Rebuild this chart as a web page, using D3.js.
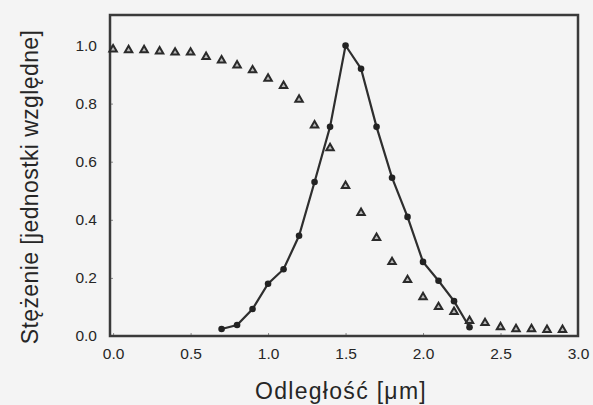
<!DOCTYPE html>
<html>
<head>
<meta charset="utf-8">
<script src="https://cdn.jsdelivr.net/npm/d3@7"></script>
<style>
  body { margin: 0; background: #f4f4f4; }
  text { font-family: "Liberation Sans", Arial, sans-serif; fill: #262626; }
</style>
</head>
<body>
<div id="chart"></div>
<script>
// profile (circles, joined by line)
const profileX = [0.7, 0.8, 0.9, 1.0, 1.1, 1.2, 1.3, 1.4, 1.5, 1.6, 1.7, 1.8, 1.9, 2.0, 2.1, 2.2, 2.3];
const profileY = [0.024, 0.038, 0.093, 0.18, 0.23, 0.345, 0.53, 0.72, 1.0, 0.92, 0.72, 0.545, 0.41, 0.255, 0.19, 0.12, 0.03];

// initial distribution (open triangles)
const initialX = [0.0, 0.1, 0.2, 0.3, 0.4, 0.5, 0.6, 0.7, 0.8, 0.9, 1.0, 1.1, 1.2, 1.3, 1.4,
                  1.5, 1.6, 1.7, 1.8, 1.9, 2.0, 2.1, 2.2, 2.3, 2.4, 2.5, 2.6, 2.7, 2.8, 2.9];
const initialY = [0.987, 0.984, 0.984, 0.98, 0.976, 0.976, 0.961, 0.949, 0.932, 0.915, 0.886, 0.861, 0.814, 0.725, 0.647,
                  0.517, 0.424, 0.338, 0.255, 0.193, 0.134, 0.10, 0.083, 0.052, 0.045, 0.031, 0.024, 0.024, 0.021, 0.021];

const xTicks = [0.0, 0.5, 1.0, 1.5, 2.0, 2.5, 3.0];
const yTicks = [0.0, 0.2, 0.4, 0.6, 0.8, 1.0];

const xTitle = "Odległość [μm]";
const yTitle = "Stężenie [jednostki względne]";

// dimensions
const W = 593, H = 405;
const margin = {top: 15, right: 15, bottom: 69, left: 110};
const width = W - margin.left - margin.right,
      height = H - margin.top - margin.bottom;

const svg = d3.select("#chart").append("svg")
    .attr("width", W)
    .attr("height", H);

const g = svg.append("g")
    .attr("transform", `translate(${margin.left},${margin.top})`);

const x = d3.scaleLinear().domain([-0.02, 3.0]).range([0, width]);
const y = d3.scaleLinear().domain([0, 1.105]).range([height, 0]);

// axes: labels only, tiny inward ticks
const xAxis = g.append("g")
    .attr("transform", `translate(0,${height})`)
    .call(d3.axisBottom(x).tickValues(xTicks).tickFormat(d3.format(".1f")).tickSizeInner(-3).tickSizeOuter(0).tickPadding(12));
const yAxis = g.append("g")
    .call(d3.axisLeft(y).tickValues(yTicks).tickFormat(d3.format(".1f")).tickSizeInner(-3).tickSizeOuter(0).tickPadding(13));

[xAxis, yAxis].forEach(a => {
  a.select(".domain").remove();
  a.selectAll(".tick line").attr("stroke", "#888").attr("stroke-width", 1);
  a.selectAll(".tick text").style("font-size", "15.5px").attr("fill", "#333");
});

// frame
g.append("rect")
    .attr("width", width)
    .attr("height", height)
    .attr("fill", "none")
    .attr("stroke", "#3a3a3a")
    .attr("stroke-width", 2.5);

// triangles
const tri = d3.symbol().type(d3.symbolTriangle).size(24);
g.append("g")
  .selectAll("path")
  .data(initialX.map((v, i) => [v, initialY[i]]))
  .join("path")
    .attr("d", tri)
    .attr("transform", d => `translate(${x(d[0])},${y(d[1])})`)
    .attr("fill", "#bbb")
    .attr("stroke", "#2a2a2a")
    .attr("stroke-width", 2);

// line + circles
const profile = profileX.map((v, i) => [v, profileY[i]]);
g.append("path")
    .datum(profile)
    .attr("fill", "none")
    .attr("stroke", "#2e2e2e")
    .attr("stroke-width", 2.2)
    .attr("d", d3.line().x(d => x(d[0])).y(d => y(d[1])));

g.append("g")
  .selectAll("circle")
  .data(profile)
  .join("circle")
    .attr("cx", d => x(d[0]))
    .attr("cy", d => y(d[1]))
    .attr("r", 3.3)
    .attr("fill", "#222");

// axis titles
svg.append("text")
    .attr("x", 341)
    .attr("y", 399)
    .attr("text-anchor", "middle")
    .style("font-size", "23px")
    .style("letter-spacing", "1.3px")
    .text(xTitle);

svg.append("text")
    .attr("transform", "translate(38,187) rotate(-90)")
    .attr("text-anchor", "middle")
    .style("font-size", "23px")
    .style("letter-spacing", "0.4px")
    .text(yTitle);
</script>
</body>
</html>
